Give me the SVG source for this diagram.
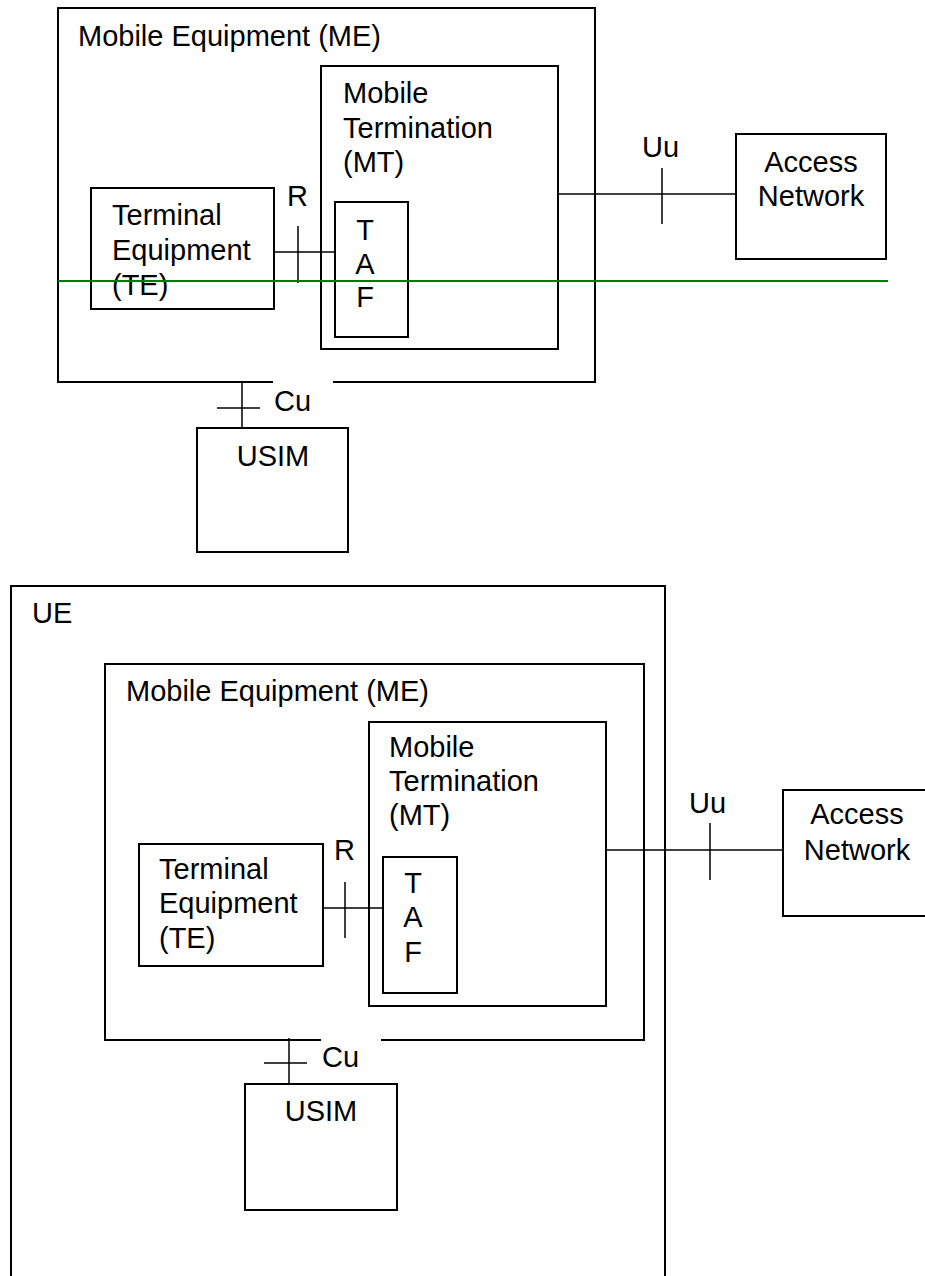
<svg xmlns="http://www.w3.org/2000/svg" width="925" height="1276" viewBox="0 0 925 1276">
<style>
.box{fill:none;stroke:#000;stroke-width:2}
.ln{fill:none;stroke:#000;stroke-width:1.5}
.t{font-family:"Liberation Sans",Arial,sans-serif;font-size:29px;fill:#000}
.c{text-anchor:middle}
.gap{fill:#fff;stroke:none}
.green{stroke:#007a00;stroke-width:2}
</style>
<rect width="925" height="1276" fill="#fff"/>

<!-- ===== Top diagram ===== -->
<g id="me1">
<rect class="box" x="58" y="8" width="537" height="374"/>
<text class="t" x="78" y="46">Mobile Equipment (ME)</text>
</g>
<g id="mt1">
<rect class="box" x="321" y="66" width="237" height="283"/>
<text class="t" x="343" y="103">Mobile</text>
<text class="t" x="343" y="138">Termination</text>
<text class="t" x="343" y="172">(MT)</text>
</g>
<g id="te1">
<rect class="box" x="91" y="188" width="183" height="121"/>
<text class="t" x="112" y="225">Terminal</text>
<text class="t" x="112" y="260">Equipment</text>
<text class="t" x="112" y="295">(TE)</text>
</g>
<g id="taf1">
<rect class="box" x="335" y="202" width="73" height="135"/>
<text class="t c" x="365" y="240">T</text>
<text class="t c" x="365" y="274">A</text>
<text class="t c" x="365" y="307">F</text>
</g>
<g id="an1">
<rect class="box" x="736" y="134" width="150" height="125"/>
<text class="t c" x="811" y="172">Access</text>
<text class="t c" x="811" y="206">Network</text>
</g>
<g id="usim1">
<rect class="box" x="197" y="428" width="151" height="124"/>
<text class="t c" x="273" y="466">USIM</text>
</g>
<rect class="gap" x="273" y="379" width="60" height="6"/>

<!-- ===== Bottom diagram ===== -->
<g id="ue">
<path class="box" d="M11,1277 V586 H665 V1277"/>
<text class="t" x="32" y="623">UE</text>
</g>
<g id="me2">
<rect class="box" x="105" y="664" width="539" height="376"/>
<text class="t" x="126" y="701">Mobile Equipment (ME)</text>
</g>
<g id="mt2">
<rect class="box" x="369" y="722" width="237" height="284"/>
<text class="t" x="389" y="757">Mobile</text>
<text class="t" x="389" y="791">Termination</text>
<text class="t" x="389" y="825">(MT)</text>
</g>
<g id="te2">
<rect class="box" x="139" y="844" width="184" height="122"/>
<text class="t" x="159" y="879">Terminal</text>
<text class="t" x="159" y="913">Equipment</text>
<text class="t" x="159" y="948">(TE)</text>
</g>
<g id="taf2">
<rect class="box" x="383" y="857" width="74" height="136"/>
<text class="t c" x="413" y="893">T</text>
<text class="t c" x="413" y="927">A</text>
<text class="t c" x="413" y="962">F</text>
</g>
<g id="an2">
<rect class="box" x="783" y="790" width="200" height="126"/>
<text class="t c" x="857" y="824">Access</text>
<text class="t c" x="857" y="860">Network</text>
</g>
<g id="usim2">
<rect class="box" x="245" y="1084" width="152" height="126"/>
<text class="t c" x="321" y="1121">USIM</text>
</g>
<rect class="gap" x="321" y="1037" width="60" height="6"/>

<!-- ===== Connectors ===== -->
<g id="connectors">
<!-- top -->
<line class="ln" x1="274" y1="252" x2="335" y2="252"/>
<line class="ln" x1="298" y1="226" x2="298" y2="283"/>
<text class="t" x="287" y="206">R</text>
<line class="ln" x1="558" y1="194" x2="736" y2="194"/>
<line class="ln" x1="662" y1="168" x2="662" y2="224"/>
<text class="t" x="642" y="157">Uu</text>
<line class="ln" x1="242" y1="382" x2="242" y2="428"/>
<line class="ln" x1="217" y1="408" x2="260" y2="408"/>
<text class="t" x="274" y="411">Cu</text>
<!-- bottom -->
<line class="ln" x1="323" y1="908" x2="383" y2="908"/>
<line class="ln" x1="345" y1="882" x2="345" y2="938"/>
<text class="t" x="334" y="860">R</text>
<line class="ln" x1="606" y1="850" x2="783" y2="850"/>
<line class="ln" x1="710" y1="823" x2="710" y2="880"/>
<text class="t" x="689" y="813">Uu</text>
<line class="ln" x1="289" y1="1038" x2="289" y2="1084"/>
<line class="ln" x1="264" y1="1063" x2="307" y2="1063"/>
<text class="t" x="322" y="1067">Cu</text>
</g>

<line id="green-line" class="green" x1="58" y1="281" x2="888" y2="281"/>
</svg>
